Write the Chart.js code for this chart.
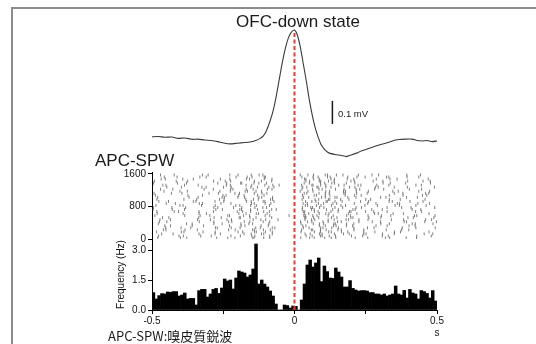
<!DOCTYPE html>
<html><head><meta charset="utf-8">
<script src="https://cdn.jsdelivr.net/npm/chart.js@4.4.0/dist/chart.umd.min.js"></script>
<style>
html,body{margin:0;padding:0;background:#fff;}
#wrap{position:relative;width:536px;height:344px;overflow:hidden;background:#fff;}
#wrap canvas{position:absolute;left:0;top:0;}
.frame{position:absolute;left:11px;top:7px;width:700px;height:600px;border-top:2px solid #8c8c8c;border-left:2px solid #8c8c8c;}
.txt{position:absolute;white-space:nowrap;color:#1a1a1a;font-family:"Liberation Sans",Arial,sans-serif;line-height:1;}
</style></head><body>
<div id="wrap">
<div class="frame"></div>
<canvas id="cWave" width="536" height="344"></canvas>
<canvas id="cRaster" width="536" height="344"></canvas>
<canvas id="cHist" width="536" height="344"></canvas>
<canvas id="cLine" width="536" height="344"></canvas>
<div class="txt" style="left:298px;top:13px;font-size:17px;transform:translateX(-50%);">OFC-down state</div>
<div class="txt" style="left:95px;top:152px;font-size:17px;">APC-SPW</div>
<div class="txt" style="left:338px;top:109px;font-size:9.5px;">0.1 mV</div>
<div class="txt" style="left:108px;top:329px;font-size:13px;font-family:'Noto Sans CJK JP','Liberation Sans',sans-serif;">APC-SPW:嗅皮質鋭波</div>
</div>
<script>
// ---- waveform (OFC-down state average), time in s, amplitude in mV ----
const waveT = [-0.5,-0.478,-0.455,-0.43,-0.409,-0.385,-0.36,-0.339,-0.315,-0.29,-0.269,-0.248,-0.227,-0.2,-0.175,-0.157,-0.136,-0.122,-0.11,-0.099,-0.087,-0.076,-0.064,-0.052,-0.041,-0.029,-0.02,-0.01,0,0.01,0.021,0.031,0.042,0.052,0.063,0.073,0.084,0.094,0.108,0.122,0.143,0.164,0.182,0.199,0.217,0.234,0.255,0.276,0.297,0.322,0.343,0.367,0.388,0.413,0.43,0.448,0.465,0.483,0.5];
const waveMV = [0.001,0.002,-0.001,0,-0.006,-0.004,-0.01,-0.009,-0.013,-0.015,-0.02,-0.026,-0.03,-0.027,-0.024,-0.022,-0.015,-0.007,0.004,0.026,0.065,0.109,0.178,0.261,0.335,0.4,0.435,0.457,0.465,0.443,0.387,0.317,0.239,0.161,0.091,0.039,-0.004,-0.035,-0.057,-0.07,-0.076,-0.08,-0.085,-0.078,-0.07,-0.061,-0.052,-0.043,-0.035,-0.026,-0.017,-0.011,-0.009,-0.009,-0.015,-0.017,-0.015,-0.02,-0.017];
const scaleBarT = 0.133;
const scaleBarMV = [0.057, 0.157];

// ---- raster: trial number of each row and its spike times (ms) ----
const rasterTrials = [825,125,1475,575,1025,325,1275,25,725,1575,425,975,175,1325,625,1125,275,875,1425,75,525,1225,375,1075,1525,225,775,1175,475,925,1375,675];
const rasterSpikesMs = [
[-486,-402,-391,-326,-278,-206,-192,-154,-134,-88,38,46,77,93,130,163,179,247,291,353,368,426,462],
[-466,-426,-335,-279,-260,-177,-152,-116,-108,-78,37,55,88,97,140,172,192,243,251,309,350,455,485],
[-468,-453,-392,-355,-260,-227,-169,-158,-106,-79,35,40,67,87,128,140,185,208,287,335,360,469],
[-490,-385,-331,-297,-234,-228,-179,-158,-103,-87,-19,33,39,64,79,118,136,183,196,258,305,338,421,429,493],
[-480,-370,-338,-254,-246,-199,-175,-125,-115,-77,32,50,95,108,142,149,187,216,302,321,393,431],
[-455,-435,-359,-319,-228,-187,-174,-117,-92,29,40,87,108,137,146,182,204,286,325,402,423],
[-448,-397,-325,-310,-249,-222,-153,-130,-90,-72,29,43,79,83,110,128,193,212,284,294,350,396,491],
[-480,-400,-378,-273,-234,-209,-146,-142,-108,-87,22,53,69,106,129,145,213,257,319,334,392,428],
[-496,-429,-386,-276,-253,-192,-186,-154,-130,-80,-64,27,60,69,112,134,154,205,213,271,308,413,443],
[-470,-422,-323,-303,-227,-198,-152,-124,-111,20,47,67,108,116,147,170,224,272,295,394,442],
[-474,-448,-334,-283,-231,-220,-176,-157,-110,-87,21,46,61,100,118,151,164,226,273,302,385,393,457,498],
[-483,-388,-343,-263,-247,-171,-144,-127,-84,-77,27,72,85,119,124,162,191,250,267,333,371,458],
[-484,-397,-388,-321,-278,-198,-182,-140,-134,-102,-78,23,70,91,120,129,165,187,243,282,351,372,472],
[-462,-451,-386,-338,-239,-225,-170,-150,-104,-76,-54,25,61,65,92,110,155,174,223,233,289,331,426,445],
[-482,-391,-335,-309,-195,-170,-134,-126,-96,34,50,87,110,121,189,219,281,294,346,382,472],
[-493,-432,-395,-300,-267,-209,-193,-141,-114,-97,34,43,86,108,122,173,178,218,255,350,380,460,471],
[-452,-398,-364,-277,-271,-222,-191,-136,-120,-78,-69,31,51,92,100,131,154,208,256,279,378,426,494],
[-450,-418,-334,-323,-258,-223,-151,-141,-103,-83,30,45,84,102,135,148,210,257,286,361,369,433,474],
[-491,-415,-375,-284,-243,-224,-141,-116,-80,40,53,87,92,119,139,198,210,276,310,397,451,476],
[-477,-405,-390,-329,-292,-223,-190,-150,-139,-87,41,62,91,97,122,144,200,239,308,329,429,480],
[-463,-441,-336,-282,-257,-194,-190,-156,-135,-80,36,40,67,85,130,149,198,205,261,303,398,417,489],
[-470,-427,-317,-285,-224,-216,-169,-145,-95,-79,26,63,86,97,144,174,216,229,281,313,403,446],
[-478,-379,-359,-283,-254,-188,-160,-147,-90,23,66,88,102,138,143,183,208,303,333,413,424,486],
[-488,-374,-323,-251,-240,-196,-177,-130,-107,28,69,77,108,124,178,211,234,333,381,449,464],
[-457,-412,-332,-310,-205,-166,-149,-106,-102,26,65,83,116,125,187,219,248,323,331,395,436],
[-460,-451,-384,-341,-231,-208,-147,-141,-109,-85,25,59,64,91,111,152,164,209,243,322,376,401],
[-495,-430,-382,-283,-269,-214,-185,-139,-111,-98,28,57,63,88,103,142,169,216,235,325,376,409,492],
[-458,-402,-376,-262,-225,-173,-165,-135,-116,20,47,65,110,123,172,179,217,259,345,364,436,474],
[-472,-435,-340,-295,-237,-221,-145,-118,-101,-58,37,60,71,118,139,181,190,226,258,340,383,460,481],
[-476,-442,-355,-346,-279,-248,-168,-152,-110,-104,-72,39,61,75,111,115,142,167,232,260,332,343,405,451],
[-495,-411,-379,-269,-238,-189,-185,-142,-125,-98,34,52,91,106,131,140,182,212,311,336,390,477],
[-483,-422,-407,-335,-284,-201,-182,-154,-108,-88,31,36,70,83,128,153,193,198,249,278,325,425,446]
];
const rasterTickVals = [0, 800, 1600];

// ---- peri-event histogram: 10 ms bins from -0.5 s to 0.5 s, frequency in Hz ----
const histBinStart = -0.5, histBinWidth = 0.01;
const histHz = [
0.87,0.55,0.72,0.82,0.8,0.9,0.88,0.92,0.92,0.7,
0.75,0.85,0.55,0.58,0.58,0.25,0.97,1.03,1.03,0.65,
0.8,1.03,1.08,0.83,1.1,1.55,1.45,1.5,1.05,1.6,
1.95,1.9,1.85,1.65,1.75,2.05,3.3,1.3,1.5,1.3,
1.15,0.95,0.7,0.3,0,0,0.25,0.22,0.1,0.2,
0.18,0,0.5,1.3,2.25,2.5,2.15,2.35,2.6,1.42,
2.2,1.92,1.6,1.58,2.1,1.9,1.65,1.15,1.15,1.47,
1.08,1.0,0.95,0.97,0.97,0.95,0.87,0.87,0.8,0.8,
0.75,0.8,0.7,0.75,0.8,1.2,0.8,0.75,0.98,0.6,
1.03,0.85,0.8,0.55,0.97,0.92,0.83,0.6,0.97,0.45];
const histTickVals = [0, 1.5, 3.0];
const xTickVals = [-0.5, -0.25, 0, 0.25, 0.5];
const xTickLabels = ['-0.5', '', '0', '', ['0.5', 's']];
const eventTime = 0;

// ---- common settings ----
const FONT = "'Liberation Sans', Arial, sans-serif";
const AREA_RIGHT_PAD = 99;
const baseOpts = {
  responsive:false, animation:false, events:[],
  plugins:{legend:{display:false}, tooltip:{enabled:false}, title:{display:false}}
};
const tickFont = {family:FONT, size:10};

// waveform
new Chart(document.getElementById('cWave'), {
  type:'line',
  data:{datasets:[
    {data: waveT.map((t,i)=>({x:t, y:waveMV[i]})), borderColor:'#3a3a3a', borderWidth:1.1, pointRadius:0, tension:0.2},
    {data: scaleBarMV.map(v=>({x:scaleBarT, y:v})), borderColor:'#1a1a1a', borderWidth:1.5, pointRadius:0}
  ]},
  options:Object.assign({}, baseOpts, {
    layout:{padding:{left:152, right:AREA_RIGHT_PAD, top:24, bottom:172}},
    scales:{
      x:{type:'linear', min:-0.5, max:0.5, display:false},
      y:{type:'linear', min:-0.152, max:0.491, display:false}
    }
  })
});

// raster
const rasterPts = [];
rasterTrials.forEach((tr,i)=>{ rasterSpikesMs[i].forEach(ms=>rasterPts.push({x:ms/1000, y:tr})); });
new Chart(document.getElementById('cRaster'), {
  type:'scatter',
  data:{datasets:[{data:rasterPts, pointStyle:'line', pointRotation:90, pointRadius:1.5,
    pointBorderWidth:1, pointBorderColor:'rgba(85,85,85,0.75)', pointBackgroundColor:'rgba(85,85,85,0.75)'}]},
  options:Object.assign({}, baseOpts, {
    layout:{padding:{left:111, right:AREA_RIGHT_PAD, top:172, bottom:105}},
    scales:{
      x:{type:'linear', min:-0.5, max:0.5, display:false},
      y:{type:'linear', min:0, max:1649,
        afterBuildTicks:s=>{ s.ticks = rasterTickVals.map(v=>({value:v})); },
        afterFit:s=>{ s.width = 41; },
        ticks:{font:tickFont, color:'#111', padding:2, callback:v=>String(v)},
        grid:{drawOnChartArea:false, drawTicks:true, tickLength:4, color:'#000', lineWidth:1},
        border:{display:true, color:'#000', width:1}}
    }
  })
});

// histogram
const histData = histHz.map((v,i)=>({x: histBinStart + histBinWidth*(i+0.5), y:v}));
new Chart(document.getElementById('cHist'), {
  type:'bar',
  data:{datasets:[{data:histData, backgroundColor:'#000', borderWidth:0, barPercentage:1, categoryPercentage:1}]},
  options:Object.assign({}, baseOpts, {
    layout:{padding:{left:111, right:AREA_RIGHT_PAD, top:239, bottom:4}},
    scales:{
      x:{type:'linear', min:-0.5, max:0.5, offset:false,
        afterBuildTicks:s=>{ s.ticks = xTickVals.map(v=>({value:v})); },
        afterFit:s=>{ s.height = 30; },
        ticks:{font:tickFont, color:'#111', padding:1, maxRotation:0, autoSkip:false,
          callback:(v)=>{ const k = xTickVals.findIndex(t=>Math.abs(t-v)<1e-9); return k>=0 ? xTickLabels[k] : ''; }},
        grid:{drawOnChartArea:false, drawTicks:true, tickLength:4, color:'#000', offset:false},
        border:{display:true, color:'#000', width:1}},
      y:{type:'linear', min:0, max:3.55,
        afterBuildTicks:s=>{ s.ticks = histTickVals.map(v=>({value:v})); },
        afterFit:s=>{ s.width = 41; },
        title:{display:true, text:'Frequency (Hz)', font:{family:FONT, size:10}, color:'#111', padding:{top:4, bottom:0}},
        ticks:{font:tickFont, color:'#111', padding:2, callback:v=>Number(v).toFixed(1)},
        grid:{drawOnChartArea:false, drawTicks:true, tickLength:4, color:'#000'},
        border:{display:true, color:'#000', width:1}}
    }
  })
});

// event line (t = 0) across all panels
new Chart(document.getElementById('cLine'), {
  type:'line',
  data:{datasets:[{data:[{x:eventTime, y:0}, {x:eventTime, y:1}], borderColor:'#e03c3c', borderWidth:2,
    borderDash:[4,2.5], pointRadius:0}]},
  options:Object.assign({}, baseOpts, {
    layout:{padding:{left:152, right:AREA_RIGHT_PAD, top:33, bottom:34}},
    scales:{
      x:{type:'linear', min:-0.5, max:0.5, display:false},
      y:{type:'linear', min:0, max:1, display:false}
    }
  })
});
</script>
</body></html>
